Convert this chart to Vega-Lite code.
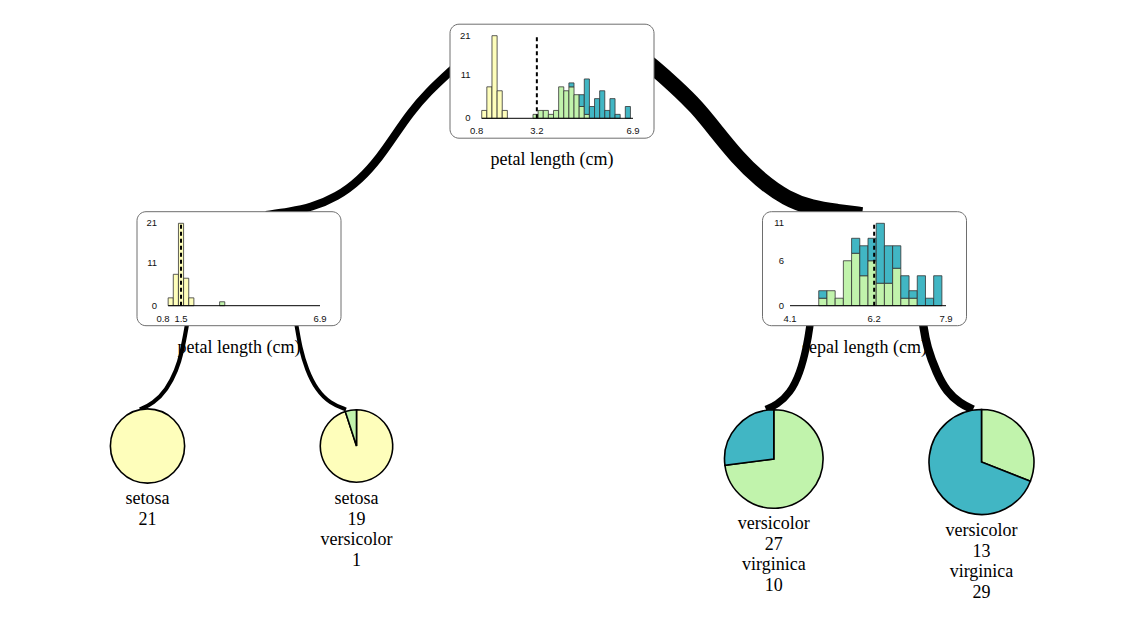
{
  "$schema": "https://vega.github.io/schema/vega-lite/v6.json",
  "width": 1121,
  "height": 626,
  "autosize": {"type": "none"},
  "padding": 0,
  "background": "white",
  "config": {"view": {"stroke": null}},
  "datasets": {
    "nodes": [
      {"node": "root", "feature": "petal length (cm)", "cx": 552, "cy": 81.2},
      {"node": "left", "feature": "petal length (cm)", "cx": 239, "cy": 268.7},
      {"node": "right", "feature": "sepal length (cm)", "cx": 864.5, "cy": 268.7}
    ],
    "edges": [
      {"edge": "A", "samples": 41, "i": 0, "ex": 476, "ey": 48},
      {"edge": "A", "samples": 41, "i": 1, "ex": 450, "ey": 71.7},
      {"edge": "A", "samples": 41, "i": 2, "ex": 428, "ey": 92},
      {"edge": "A", "samples": 41, "i": 3, "ex": 410, "ey": 113},
      {"edge": "A", "samples": 41, "i": 4, "ex": 395, "ey": 135},
      {"edge": "A", "samples": 41, "i": 5, "ex": 380, "ey": 157},
      {"edge": "A", "samples": 41, "i": 6, "ex": 360, "ey": 180},
      {"edge": "A", "samples": 41, "i": 7, "ex": 337, "ey": 197},
      {"edge": "A", "samples": 41, "i": 8, "ex": 311, "ey": 207.5},
      {"edge": "A", "samples": 41, "i": 9, "ex": 290, "ey": 211.7},
      {"edge": "A", "samples": 41, "i": 10, "ex": 266, "ey": 215},
      {"edge": "B", "samples": 79, "i": 0, "ex": 630, "ey": 48},
      {"edge": "B", "samples": 79, "i": 1, "ex": 653.3, "ey": 66.7},
      {"edge": "B", "samples": 79, "i": 2, "ex": 674, "ey": 85},
      {"edge": "B", "samples": 79, "i": 3, "ex": 696.7, "ey": 106.7},
      {"edge": "B", "samples": 79, "i": 4, "ex": 716.7, "ey": 132},
      {"edge": "B", "samples": 79, "i": 5, "ex": 736.7, "ey": 156.7},
      {"edge": "B", "samples": 79, "i": 6, "ex": 760, "ey": 180},
      {"edge": "B", "samples": 79, "i": 7, "ex": 786.7, "ey": 199},
      {"edge": "B", "samples": 79, "i": 8, "ex": 812, "ey": 208},
      {"edge": "B", "samples": 79, "i": 9, "ex": 836.7, "ey": 211.7},
      {"edge": "B", "samples": 79, "i": 10, "ex": 862, "ey": 215},
      {"edge": "C", "samples": 21, "i": 0, "ex": 189, "ey": 312},
      {"edge": "C", "samples": 21, "i": 1, "ex": 186.7, "ey": 326.7},
      {"edge": "C", "samples": 21, "i": 2, "ex": 181.7, "ey": 353.3},
      {"edge": "C", "samples": 21, "i": 3, "ex": 176.7, "ey": 370},
      {"edge": "C", "samples": 21, "i": 4, "ex": 166.7, "ey": 390},
      {"edge": "C", "samples": 21, "i": 5, "ex": 153.3, "ey": 403.3},
      {"edge": "C", "samples": 21, "i": 6, "ex": 140, "ey": 409.5},
      {"edge": "D", "samples": 20, "i": 0, "ex": 294, "ey": 312},
      {"edge": "D", "samples": 20, "i": 1, "ex": 296.7, "ey": 326},
      {"edge": "D", "samples": 20, "i": 2, "ex": 300, "ey": 346.7},
      {"edge": "D", "samples": 20, "i": 3, "ex": 306.7, "ey": 370},
      {"edge": "D", "samples": 20, "i": 4, "ex": 316.7, "ey": 390},
      {"edge": "D", "samples": 20, "i": 5, "ex": 330, "ey": 403.3},
      {"edge": "D", "samples": 20, "i": 6, "ex": 346, "ey": 409.5},
      {"edge": "E", "samples": 37, "i": 0, "ex": 811.5, "ey": 312},
      {"edge": "E", "samples": 37, "i": 1, "ex": 810, "ey": 326},
      {"edge": "E", "samples": 37, "i": 2, "ex": 806.7, "ey": 346.7},
      {"edge": "E", "samples": 37, "i": 3, "ex": 800, "ey": 373.3},
      {"edge": "E", "samples": 37, "i": 4, "ex": 790, "ey": 393.3},
      {"edge": "E", "samples": 37, "i": 5, "ex": 776.7, "ey": 405},
      {"edge": "E", "samples": 37, "i": 6, "ex": 766, "ey": 409.5},
      {"edge": "F", "samples": 42, "i": 0, "ex": 921.5, "ey": 312},
      {"edge": "F", "samples": 42, "i": 1, "ex": 923.3, "ey": 326},
      {"edge": "F", "samples": 42, "i": 2, "ex": 926.7, "ey": 346.7},
      {"edge": "F", "samples": 42, "i": 3, "ex": 936.7, "ey": 373.3},
      {"edge": "F", "samples": 42, "i": 4, "ex": 946.7, "ey": 391.7},
      {"edge": "F", "samples": 42, "i": 5, "ex": 960, "ey": 403.3},
      {"edge": "F", "samples": 42, "i": 6, "ex": 973, "ey": 409.5}
    ],
    "hist": [
      {"node": "root", "cls": "setosa", "lo": 1.0, "hi": 1.2, "n": 2},
      {"node": "root", "cls": "setosa", "lo": 1.2, "hi": 1.4, "n": 8},
      {"node": "root", "cls": "setosa", "lo": 1.4, "hi": 1.6, "n": 21},
      {"node": "root", "cls": "setosa", "lo": 1.6, "hi": 1.8, "n": 7},
      {"node": "root", "cls": "setosa", "lo": 1.8, "hi": 2.0, "n": 2},
      {"node": "root", "cls": "versicolor", "lo": 3.0, "hi": 3.2, "n": 1},
      {"node": "root", "cls": "versicolor", "lo": 3.2, "hi": 3.4, "n": 2},
      {"node": "root", "cls": "versicolor", "lo": 3.4, "hi": 3.6, "n": 2},
      {"node": "root", "cls": "versicolor", "lo": 3.6, "hi": 3.8, "n": 1},
      {"node": "root", "cls": "versicolor", "lo": 3.8, "hi": 4.0, "n": 2},
      {"node": "root", "cls": "versicolor", "lo": 4.0, "hi": 4.2, "n": 8},
      {"node": "root", "cls": "versicolor", "lo": 4.2, "hi": 4.4, "n": 7},
      {"node": "root", "cls": "versicolor", "lo": 4.4, "hi": 4.6, "n": 8},
      {"node": "root", "cls": "versicolor", "lo": 4.6, "hi": 4.8, "n": 6},
      {"node": "root", "cls": "versicolor", "lo": 4.8, "hi": 5.0, "n": 3},
      {"node": "root", "cls": "versicolor", "lo": 5.0, "hi": 5.2, "n": 1},
      {"node": "root", "cls": "virginica", "lo": 4.4, "hi": 4.6, "n": 1},
      {"node": "root", "cls": "virginica", "lo": 4.8, "hi": 5.0, "n": 3},
      {"node": "root", "cls": "virginica", "lo": 5.0, "hi": 5.2, "n": 9},
      {"node": "root", "cls": "virginica", "lo": 5.2, "hi": 5.4, "n": 3},
      {"node": "root", "cls": "virginica", "lo": 5.4, "hi": 5.6, "n": 5},
      {"node": "root", "cls": "virginica", "lo": 5.6, "hi": 5.8, "n": 7},
      {"node": "root", "cls": "virginica", "lo": 5.8, "hi": 6.0, "n": 2},
      {"node": "root", "cls": "virginica", "lo": 6.0, "hi": 6.2, "n": 5},
      {"node": "root", "cls": "virginica", "lo": 6.2, "hi": 6.4, "n": 1},
      {"node": "root", "cls": "virginica", "lo": 6.6, "hi": 6.8, "n": 3},
      {"node": "left", "cls": "setosa", "lo": 1.0, "hi": 1.2, "n": 2},
      {"node": "left", "cls": "setosa", "lo": 1.2, "hi": 1.4, "n": 8},
      {"node": "left", "cls": "setosa", "lo": 1.4, "hi": 1.6, "n": 21},
      {"node": "left", "cls": "setosa", "lo": 1.6, "hi": 1.8, "n": 7},
      {"node": "left", "cls": "setosa", "lo": 1.8, "hi": 2.0, "n": 2},
      {"node": "left", "cls": "versicolor", "lo": 3.0, "hi": 3.2, "n": 1},
      {"node": "right", "cls": "versicolor", "lo": 4.8, "hi": 5.0, "n": 1},
      {"node": "right", "cls": "virginica", "lo": 4.8, "hi": 5.0, "n": 1},
      {"node": "right", "cls": "versicolor", "lo": 5.0, "hi": 5.2, "n": 2},
      {"node": "right", "cls": "versicolor", "lo": 5.2, "hi": 5.4, "n": 1},
      {"node": "right", "cls": "versicolor", "lo": 5.4, "hi": 5.6, "n": 6},
      {"node": "right", "cls": "versicolor", "lo": 5.6, "hi": 5.8, "n": 7},
      {"node": "right", "cls": "virginica", "lo": 5.6, "hi": 5.8, "n": 2},
      {"node": "right", "cls": "versicolor", "lo": 5.8, "hi": 6.0, "n": 4},
      {"node": "right", "cls": "virginica", "lo": 5.8, "hi": 6.0, "n": 4},
      {"node": "right", "cls": "versicolor", "lo": 6.0, "hi": 6.2, "n": 6},
      {"node": "right", "cls": "virginica", "lo": 6.0, "hi": 6.2, "n": 3},
      {"node": "right", "cls": "versicolor", "lo": 6.2, "hi": 6.4, "n": 3},
      {"node": "right", "cls": "virginica", "lo": 6.2, "hi": 6.4, "n": 8},
      {"node": "right", "cls": "versicolor", "lo": 6.4, "hi": 6.6, "n": 3},
      {"node": "right", "cls": "virginica", "lo": 6.4, "hi": 6.6, "n": 5},
      {"node": "right", "cls": "versicolor", "lo": 6.6, "hi": 6.8, "n": 5},
      {"node": "right", "cls": "virginica", "lo": 6.6, "hi": 6.8, "n": 3},
      {"node": "right", "cls": "versicolor", "lo": 6.8, "hi": 7.0, "n": 1},
      {"node": "right", "cls": "virginica", "lo": 6.8, "hi": 7.0, "n": 3},
      {"node": "right", "cls": "versicolor", "lo": 7.0, "hi": 7.2, "n": 1},
      {"node": "right", "cls": "virginica", "lo": 7.0, "hi": 7.2, "n": 1},
      {"node": "right", "cls": "virginica", "lo": 7.2, "hi": 7.4, "n": 4},
      {"node": "right", "cls": "virginica", "lo": 7.4, "hi": 7.6, "n": 1},
      {"node": "right", "cls": "virginica", "lo": 7.6, "hi": 7.8, "n": 4}
    ],
    "axes": [
      {"node": "root", "lo": 1.0, "hi": 6.9},
      {"node": "left", "lo": 1.0, "hi": 6.9},
      {"node": "right", "lo": 4.1, "hi": 7.9}
    ],
    "splits": [
      {"node": "root", "split": 3.15},
      {"node": "left", "split": 1.5},
      {"node": "right", "split": 6.15}
    ],
    "xticks": [
      {"node": "root", "v": 0.8, "label": "0.8"},
      {"node": "root", "v": 3.15, "label": "3.2"},
      {"node": "root", "v": 6.9, "label": "6.9"},
      {"node": "left", "v": 0.8, "label": "0.8"},
      {"node": "left", "v": 1.5, "label": "1.5"},
      {"node": "left", "v": 6.9, "label": "6.9"},
      {"node": "right", "v": 4.1, "label": "4.1"},
      {"node": "right", "v": 6.15, "label": "6.2"},
      {"node": "right", "v": 7.9, "label": "7.9"}
    ],
    "yticks": [
      {"node": "root", "c": 0}, {"node": "root", "c": 11}, {"node": "root", "c": 21},
      {"node": "left", "c": 0}, {"node": "left", "c": 11}, {"node": "left", "c": 21},
      {"node": "right", "c": 0}, {"node": "right", "c": 6}, {"node": "right", "c": 11}
    ],
    "leafpos": [
      {"leaf": "L1", "cx": 147.5, "cy": 446, "ly": 504},
      {"leaf": "L2", "cx": 356.5, "cy": 446, "ly": 504},
      {"leaf": "L3", "cx": 773.8, "cy": 459, "ly": 529},
      {"leaf": "L4", "cx": 981.5, "cy": 462, "ly": 536}
    ],
    "leaves": [
      {"leaf": "L1", "cls": "setosa", "n": 21},
      {"leaf": "L2", "cls": "setosa", "n": 19},
      {"leaf": "L2", "cls": "versicolor", "n": 1},
      {"leaf": "L3", "cls": "versicolor", "n": 27},
      {"leaf": "L3", "cls": "virginica", "n": 10},
      {"leaf": "L4", "cls": "versicolor", "n": 13},
      {"leaf": "L4", "cls": "virginica", "n": 29}
    ]
  },
  "resolve": {"scale": {"x": "independent", "y": "independent", "size": "independent"}},
  "layer": [
    {
      "layer": [
        {
          "data": {"name": "nodes"},
          "mark": {"type": "text", "font": "Liberation Serif", "fontSize": 18, "baseline": "middle", "align": "center", "dy": 79, "color": "black"},
          "encoding": {
            "x": {"field": "cx", "type": "quantitative", "scale": {"domain": [0, 1121], "range": [0, 1121], "nice": false, "zero": false}, "axis": null},
            "y": {"field": "cy", "type": "quantitative", "scale": {"domain": [0, 626], "range": [0, 626], "nice": false, "zero": false}, "axis": null},
            "text": {"field": "feature"}
          }
        },
        {
          "data": {"name": "edges"},
          "mark": {"type": "line", "interpolate": "basis", "color": "black", "strokeCap": "butt", "strokeJoin": "round"},
          "encoding": {
            "x": {"field": "ex", "type": "quantitative", "scale": {"domain": [0, 1121], "range": [0, 1121], "nice": false, "zero": false}, "axis": null},
            "y": {"field": "ey", "type": "quantitative", "scale": {"domain": [0, 626], "range": [0, 626], "nice": false, "zero": false}, "axis": null},
            "detail": {"field": "edge"},
            "order": {"field": "i", "type": "quantitative"},
            "size": {"field": "samples", "type": "quantitative", "scale": {"domain": [0, 80], "range": [0, 16]}, "legend": null}
          }
        },
        {
          "data": {"name": "nodes"},
          "mark": {"type": "rect", "width": 204, "height": 114, "cornerRadius": 9, "fill": "white", "stroke": "#6e6e6e", "strokeWidth": 1},
          "encoding": {
            "x": {"field": "cx", "type": "quantitative", "scale": {"domain": [0, 1121], "range": [0, 1121], "nice": false, "zero": false}, "axis": null},
            "y": {"field": "cy", "type": "quantitative", "scale": {"domain": [0, 626], "range": [0, 626], "nice": false, "zero": false}, "axis": null}
          }
        }
      ]
    },
    {
      "layer": [
        {
          "data": {"name": "hist"},
          "transform": [
            {"filter": "datum.node === 'root'"},
            {"stack": "n", "groupby": ["lo"], "sort": [{"field": "cls"}], "as": ["c0", "c1"]}
          ],
          "mark": {"type": "rect", "stroke": "#333333", "strokeWidth": 0.8},
          "encoding": {
            "x": {"field": "lo", "type": "quantitative", "scale": {"domain": [0.8, 6.9], "range": [476.6, 633], "nice": false, "zero": false}, "axis": null},
            "x2": {"field": "hi"},
            "y": {"field": "c0", "type": "quantitative", "scale": {"domain": [0, 21], "range": [118.3, 35.7], "nice": false, "zero": false}, "axis": null},
            "y2": {"field": "c1"},
            "color": {"field": "cls", "type": "nominal", "scale": {"domain": ["setosa", "versicolor", "virginica"], "range": ["#FEFEBB", "#c1f3ac", "#41b6c4"]}, "legend": null}
          }
        },
        {
          "data": {"name": "axes"},
          "transform": [{"filter": "datum.node === 'root'"}],
          "mark": {"type": "rule", "color": "black", "strokeWidth": 1},
          "encoding": {
            "x": {"field": "lo", "type": "quantitative", "scale": {"domain": [0.8, 6.9], "range": [476.6, 633], "nice": false, "zero": false}, "axis": null},
            "x2": {"field": "hi"},
            "y": {"datum": 0, "type": "quantitative", "scale": {"domain": [0, 21], "range": [118.3, 35.7], "nice": false, "zero": false}, "axis": null}
          }
        },
        {
          "data": {"name": "splits"},
          "transform": [{"filter": "datum.node === 'root'"}],
          "mark": {"type": "rule", "color": "black", "strokeWidth": 2, "strokeDash": [4, 3]},
          "encoding": {
            "x": {"field": "split", "type": "quantitative", "scale": {"domain": [0.8, 6.9], "range": [476.6, 633], "nice": false, "zero": false}, "axis": null},
            "y": {"datum": 0, "type": "quantitative", "scale": {"domain": [0, 21], "range": [118.3, 35.7], "nice": false, "zero": false}, "axis": null},
            "y2": {"datum": 21}
          }
        },
        {
          "data": {"name": "xticks"},
          "transform": [{"filter": "datum.node === 'root'"}],
          "mark": {"type": "text", "font": "Liberation Sans", "fontSize": 9.5, "baseline": "middle", "align": "center", "dy": 13, "color": "#111111"},
          "encoding": {
            "x": {"field": "v", "type": "quantitative", "scale": {"domain": [0.8, 6.9], "range": [476.6, 633], "nice": false, "zero": false}, "axis": null},
            "y": {"datum": 0, "type": "quantitative", "scale": {"domain": [0, 21], "range": [118.3, 35.7], "nice": false, "zero": false}, "axis": null},
            "text": {"field": "label"}
          }
        },
        {
          "data": {"name": "yticks"},
          "transform": [{"filter": "datum.node === 'root'"}],
          "mark": {"type": "text", "font": "Liberation Sans", "fontSize": 9.5, "baseline": "middle", "align": "right", "dx": -6, "color": "#111111"},
          "encoding": {
            "x": {"datum": 0.8, "type": "quantitative", "scale": {"domain": [0.8, 6.9], "range": [476.6, 633], "nice": false, "zero": false}, "axis": null},
            "y": {"field": "c", "type": "quantitative", "scale": {"domain": [0, 21], "range": [118.3, 35.7], "nice": false, "zero": false}, "axis": null},
            "text": {"field": "c"}
          }
        }
      ]
    },
    {
      "layer": [
        {
          "data": {"name": "hist"},
          "transform": [
            {"filter": "datum.node === 'left'"},
            {"stack": "n", "groupby": ["lo"], "sort": [{"field": "cls"}], "as": ["c0", "c1"]}
          ],
          "mark": {"type": "rect", "stroke": "#333333", "strokeWidth": 0.8},
          "encoding": {
            "x": {"field": "lo", "type": "quantitative", "scale": {"domain": [0.8, 6.9], "range": [163, 320], "nice": false, "zero": false}, "axis": null},
            "x2": {"field": "hi"},
            "y": {"field": "c0", "type": "quantitative", "scale": {"domain": [0, 21], "range": [305.7, 223.3], "nice": false, "zero": false}, "axis": null},
            "y2": {"field": "c1"},
            "color": {"field": "cls", "type": "nominal", "scale": {"domain": ["setosa", "versicolor", "virginica"], "range": ["#FEFEBB", "#c1f3ac", "#41b6c4"]}, "legend": null}
          }
        },
        {
          "data": {"name": "axes"},
          "transform": [{"filter": "datum.node === 'left'"}],
          "mark": {"type": "rule", "color": "black", "strokeWidth": 1},
          "encoding": {
            "x": {"field": "lo", "type": "quantitative", "scale": {"domain": [0.8, 6.9], "range": [163, 320], "nice": false, "zero": false}, "axis": null},
            "x2": {"field": "hi"},
            "y": {"datum": 0, "type": "quantitative", "scale": {"domain": [0, 21], "range": [305.7, 223.3], "nice": false, "zero": false}, "axis": null}
          }
        },
        {
          "data": {"name": "splits"},
          "transform": [{"filter": "datum.node === 'left'"}],
          "mark": {"type": "rule", "color": "black", "strokeWidth": 2, "strokeDash": [4, 3]},
          "encoding": {
            "x": {"field": "split", "type": "quantitative", "scale": {"domain": [0.8, 6.9], "range": [163, 320], "nice": false, "zero": false}, "axis": null},
            "y": {"datum": 0, "type": "quantitative", "scale": {"domain": [0, 21], "range": [305.7, 223.3], "nice": false, "zero": false}, "axis": null},
            "y2": {"datum": 21}
          }
        },
        {
          "data": {"name": "xticks"},
          "transform": [{"filter": "datum.node === 'left'"}],
          "mark": {"type": "text", "font": "Liberation Sans", "fontSize": 9.5, "baseline": "middle", "align": "center", "dy": 13, "color": "#111111"},
          "encoding": {
            "x": {"field": "v", "type": "quantitative", "scale": {"domain": [0.8, 6.9], "range": [163, 320], "nice": false, "zero": false}, "axis": null},
            "y": {"datum": 0, "type": "quantitative", "scale": {"domain": [0, 21], "range": [305.7, 223.3], "nice": false, "zero": false}, "axis": null},
            "text": {"field": "label"}
          }
        },
        {
          "data": {"name": "yticks"},
          "transform": [{"filter": "datum.node === 'left'"}],
          "mark": {"type": "text", "font": "Liberation Sans", "fontSize": 9.5, "baseline": "middle", "align": "right", "dx": -6, "color": "#111111"},
          "encoding": {
            "x": {"datum": 0.8, "type": "quantitative", "scale": {"domain": [0.8, 6.9], "range": [163, 320], "nice": false, "zero": false}, "axis": null},
            "y": {"field": "c", "type": "quantitative", "scale": {"domain": [0, 21], "range": [305.7, 223.3], "nice": false, "zero": false}, "axis": null},
            "text": {"field": "c"}
          }
        }
      ]
    },
    {
      "layer": [
        {
          "data": {"name": "hist"},
          "transform": [
            {"filter": "datum.node === 'right'"},
            {"stack": "n", "groupby": ["lo"], "sort": [{"field": "cls"}], "as": ["c0", "c1"]}
          ],
          "mark": {"type": "rect", "stroke": "#333333", "strokeWidth": 0.8},
          "encoding": {
            "x": {"field": "lo", "type": "quantitative", "scale": {"domain": [4.1, 7.9], "range": [790, 946], "nice": false, "zero": false}, "axis": null},
            "x2": {"field": "hi"},
            "y": {"field": "c0", "type": "quantitative", "scale": {"domain": [0, 11], "range": [305.7, 223.3], "nice": false, "zero": false}, "axis": null},
            "y2": {"field": "c1"},
            "color": {"field": "cls", "type": "nominal", "scale": {"domain": ["setosa", "versicolor", "virginica"], "range": ["#FEFEBB", "#c1f3ac", "#41b6c4"]}, "legend": null}
          }
        },
        {
          "data": {"name": "axes"},
          "transform": [{"filter": "datum.node === 'right'"}],
          "mark": {"type": "rule", "color": "black", "strokeWidth": 1},
          "encoding": {
            "x": {"field": "lo", "type": "quantitative", "scale": {"domain": [4.1, 7.9], "range": [790, 946], "nice": false, "zero": false}, "axis": null},
            "x2": {"field": "hi"},
            "y": {"datum": 0, "type": "quantitative", "scale": {"domain": [0, 11], "range": [305.7, 223.3], "nice": false, "zero": false}, "axis": null}
          }
        },
        {
          "data": {"name": "splits"},
          "transform": [{"filter": "datum.node === 'right'"}],
          "mark": {"type": "rule", "color": "black", "strokeWidth": 2, "strokeDash": [4, 3]},
          "encoding": {
            "x": {"field": "split", "type": "quantitative", "scale": {"domain": [4.1, 7.9], "range": [790, 946], "nice": false, "zero": false}, "axis": null},
            "y": {"datum": 0, "type": "quantitative", "scale": {"domain": [0, 11], "range": [305.7, 223.3], "nice": false, "zero": false}, "axis": null},
            "y2": {"datum": 11}
          }
        },
        {
          "data": {"name": "xticks"},
          "transform": [{"filter": "datum.node === 'right'"}],
          "mark": {"type": "text", "font": "Liberation Sans", "fontSize": 9.5, "baseline": "middle", "align": "center", "dy": 13, "color": "#111111"},
          "encoding": {
            "x": {"field": "v", "type": "quantitative", "scale": {"domain": [4.1, 7.9], "range": [790, 946], "nice": false, "zero": false}, "axis": null},
            "y": {"datum": 0, "type": "quantitative", "scale": {"domain": [0, 11], "range": [305.7, 223.3], "nice": false, "zero": false}, "axis": null},
            "text": {"field": "label"}
          }
        },
        {
          "data": {"name": "yticks"},
          "transform": [{"filter": "datum.node === 'right'"}],
          "mark": {"type": "text", "font": "Liberation Sans", "fontSize": 9.5, "baseline": "middle", "align": "right", "dx": -6, "color": "#111111"},
          "encoding": {
            "x": {"datum": 4.1, "type": "quantitative", "scale": {"domain": [4.1, 7.9], "range": [790, 946], "nice": false, "zero": false}, "axis": null},
            "y": {"field": "c", "type": "quantitative", "scale": {"domain": [0, 11], "range": [305.7, 223.3], "nice": false, "zero": false}, "axis": null},
            "text": {"field": "c"}
          }
        }
      ]
    },
    {
      "layer": [
        {
          "data": {"name": "leaves"},
          "transform": [
            {"lookup": "leaf", "from": {"data": {"name": "leafpos"}, "key": "leaf", "fields": ["cx", "cy", "ly"]}},
            {"joinaggregate": [{"op": "sum", "field": "n", "as": "tot"}], "groupby": ["leaf"]},
            {"stack": "n", "groupby": ["leaf"], "sort": [{"field": "cls"}], "offset": "normalize", "as": ["t0", "t1"]}
          ],
          "mark": {"type": "arc", "stroke": "black", "strokeWidth": 1.6},
          "encoding": {
            "x": {"field": "cx", "type": "quantitative", "scale": {"domain": [0, 1121], "range": [0, 1121], "nice": false, "zero": false}, "axis": null},
            "y": {"field": "cy", "type": "quantitative", "scale": {"domain": [0, 626], "range": [0, 626], "nice": false, "zero": false}, "axis": null},
            "theta": {"field": "t0", "type": "quantitative", "scale": {"domain": [0, 1], "range": [0, 6.283185307179586]}},
            "theta2": {"field": "t1"},
            "radius": {"field": "tot", "type": "quantitative", "scale": {"type": "sqrt", "zero": true, "domain": [0, 42], "range": [0, 52.5]}},
            "color": {"field": "cls", "type": "nominal", "scale": {"domain": ["setosa", "versicolor", "virginica"], "range": ["#FEFEBB", "#c1f3ac", "#41b6c4"]}, "legend": null}
          }
        },
        {
          "data": {"name": "leaves"},
          "transform": [
            {"lookup": "leaf", "from": {"data": {"name": "leafpos"}, "key": "leaf", "fields": ["cx", "cy", "ly"]}},
            {"window": [{"op": "row_number", "as": "k"}], "groupby": ["leaf"], "sort": [{"field": "cls"}]},
            {"calculate": "datum.ly + 41 * (datum.k - 1)", "as": "ty"},
            {"calculate": "datum.cls + '\\n' + datum.n", "as": "txt"}
          ],
          "mark": {"type": "text", "font": "Liberation Serif", "fontSize": 18, "lineBreak": "\n", "lineHeight": 20.5, "baseline": "alphabetic", "align": "center", "color": "black"},
          "encoding": {
            "x": {"field": "cx", "type": "quantitative", "scale": {"domain": [0, 1121], "range": [0, 1121], "nice": false, "zero": false}, "axis": null},
            "y": {"field": "ty", "type": "quantitative", "scale": {"domain": [0, 626], "range": [0, 626], "nice": false, "zero": false}, "axis": null},
            "text": {"field": "txt"}
          }
        }
      ]
    }
  ]
}
